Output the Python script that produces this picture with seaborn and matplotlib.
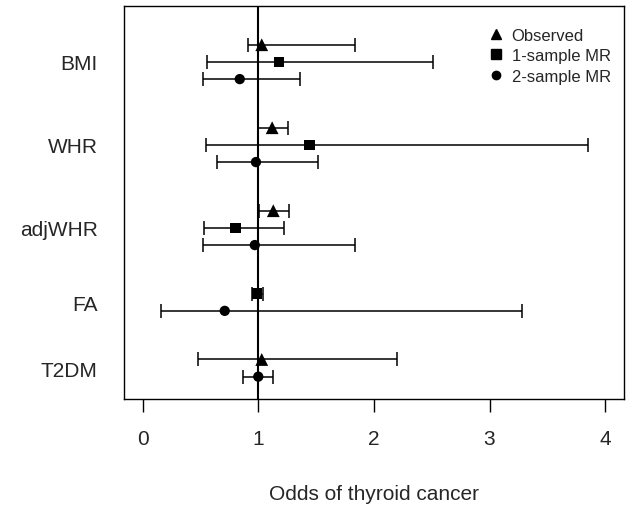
import numpy as np
import pandas as pd
import seaborn as sns
import matplotlib.pyplot as plt
from matplotlib.lines import Line2D

# Données du forest plot (odds ratios et IC 95%)
trait = ['BMI', 'BMI', 'BMI', 'WHR', 'WHR', 'WHR', 'adjWHR', 'adjWHR', 'adjWHR',
         'FA', 'FA', 'T2DM', 'T2DM']
method = ['Observed', '1-sample MR', '2-sample MR',
          'Observed', '1-sample MR', '2-sample MR',
          'Observed', '1-sample MR', '2-sample MR',
          '1-sample MR', '2-sample MR',
          'Observed', '2-sample MR']
odds = [1.03, 1.18, 0.84, 1.12, 1.44, 0.98, 1.13, 0.80, 0.97, 0.99, 0.71, 1.03, 1.00]
lower = [0.91, 0.56, 0.52, 1.00, 0.55, 0.64, 1.01, 0.53, 0.52, 0.95, 0.16, 0.48, 0.87]
upper = [1.84, 2.51, 1.36, 1.26, 3.85, 1.52, 1.27, 1.22, 1.84, 1.04, 3.28, 2.20, 1.13]
x_ticks = [0, 1, 2, 3, 4]

df = pd.DataFrame({'trait': trait, 'method': method, 'odds': odds,
                   'lower': lower, 'upper': upper})

# positions verticales : pas de 1 dans un groupe, écart plus grand entre groupes
gap = 2.83
pos = []
y = 0.0
for i, t in enumerate(trait):
    if i > 0:
        y += 1 if t == trait[i - 1] else gap
    pos.append(y)
df['pos'] = pos

sns.set_style('white')
plt.rcParams['font.family'] = ['Liberation Sans', 'DejaVu Sans']

fig = plt.figure(figsize=(6.3, 5.06), dpi=100)
ax = fig.add_axes([0.197, 0.2095, 0.793, 0.7765])

ax.errorbar(df['odds'], df['pos'],
            xerr=[df['odds'] - df['lower'], df['upper'] - df['odds']],
            fmt='none', ecolor='black', elinewidth=1.1, capsize=4.7, capthick=1.1, zorder=2)
ax.axvline(1, color='black', lw=1.5, zorder=3)

markers = {'Observed': '^', '1-sample MR': 's', '2-sample MR': 'o'}
sizes = {'Observed': 85, '1-sample MR': 60, '2-sample MR': 55}
sns.scatterplot(data=df, x='odds', y='pos', style='method', markers=markers,
                size='method', sizes=sizes, color='black', edgecolor='none',
                legend=False, ax=ax, zorder=4)

ax.set_xlim(-0.16, 4.16)
ax.set_ylim(20.62, -2.25)

centres = df.groupby('trait', sort=False)['pos'].mean()
ax.set_yticks(centres.values)
ax.set_yticklabels(centres.index, fontsize=15)
ax.tick_params(axis='y', left=False, length=0, pad=19)

ax.set_xticks(x_ticks)
ax.set_xticklabels([str(v) for v in x_ticks], fontsize=15)
ax.tick_params(axis='x', bottom=True, direction='out', length=9.5, width=1,
               pad=12, color='black')
ax.set_xlabel('Odds of thyroid cancer', fontsize=15, labelpad=26)
ax.set_ylabel('')

for s in ax.spines.values():
    s.set_color('black')
    s.set_linewidth(1)

handles = [Line2D([], [], marker=markers[m], color='black', linestyle='none',
                  markersize=6.5 if m != '2-sample MR' else 6) for m in markers]
ax.legend(handles, list(markers), loc='upper right', frameon=False, fontsize=12,
          handletextpad=0.45, labelspacing=0.33, bbox_to_anchor=(0.974, 0.945),
          handlelength=1.0, borderaxespad=0, borderpad=0)

fig.savefig('out.png', dpi=100)
